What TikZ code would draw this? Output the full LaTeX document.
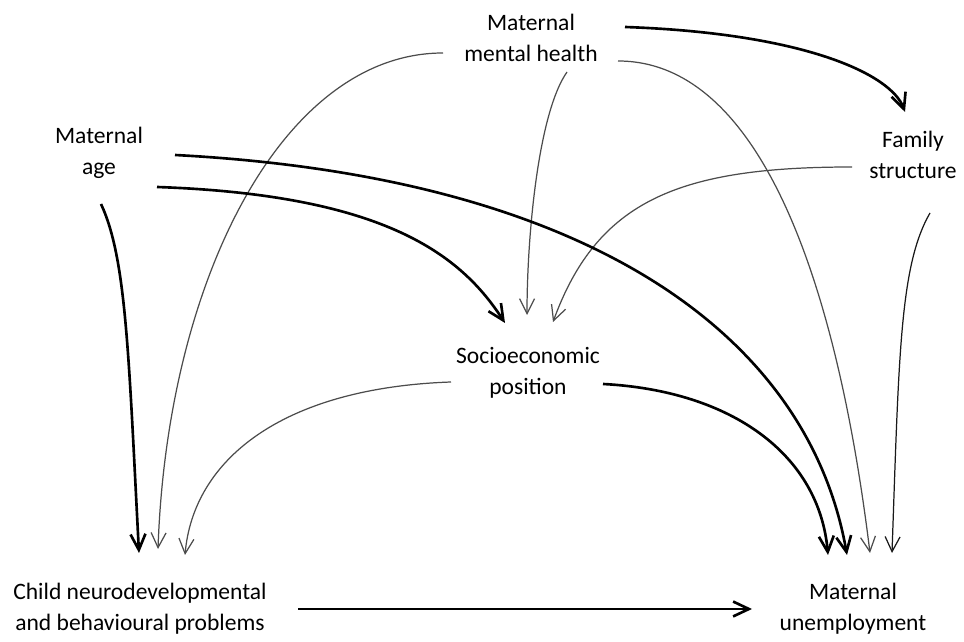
\documentclass[tikz,border=0pt]{standalone}
\usepackage{fontspec}
\setmainfont{Carlito}
\usetikzlibrary{arrows.meta, calc}

\begin{document}
\begin{tikzpicture}[x=0.02cm, y=0.02cm,
    var/.style={align=center, inner sep=0pt, font=\fontsize{13.4}{17.6}\selectfont},
    strong/.style={line width=1.5pt, -{Straight Barb[length=9pt, width=8.5pt]}},
    weak/.style={line width=0.7pt, black!70, -{Straight Barb[length=8.5pt, width=8.5pt]}}]
    \useasboundingbox (0,0) rectangle (964,642);

    % variables
    \node[var] (mmh)   at (531,604) {Maternal\\mental health};
    \node[var] (age)   at (99,489)  {Maternal\\age};
    \node[var] (fam)   at (913,487) {Family\\structure};
    \node[var] (sep)   at (528,269) {Socioeconomic\\position};
    \node[var] (child) at (140,33)  {Child neurodevelopmental\\and behavioural problems};
    \node[var] (unemp) at (853,33)  {Maternal\\unemployment};

    % maternal mental health
    \draw[strong] ($(mmh)+(94,11)$) .. controls +(-2:180) and +(110:40) .. ($(fam)+(-8,43)$);
    \draw[weak] ($(mmh)+(-88,-15)$) .. controls +(180:160) and +(88:270) .. ($(child)+(18,60)$);
    \draw[weak] ($(mmh)+(36,-34)$) .. controls +(-125:50) and +(90:80) .. ($(sep)+(-1,58)$);
    \draw[weak] ($(mmh)+(87,-23)$) .. controls +(0:140) and +(97:280) .. ($(unemp)+(17,56)$);

    % family structure
    \draw[weak] ($(fam)+(-61,-12)$) .. controls +(180:172) and +(70:130) .. ($(sep)+(25,51)$);
    \draw[weak, black!90] ($(fam)+(17,-58)$) .. controls +(-120:60) and +(88:200) .. ($(unemp)+(39,56)$);

    % maternal age
    \draw[strong] ($(age)+(76,-2)$) .. controls +(-3:420) and +(100:220) .. ($(unemp)+(-6,54)$);
    \draw[strong] ($(age)+(58,-34)$) .. controls +(-2:230) and +(123:80) .. ($(sep)+(-23,50)$);
    \draw[strong] ($(age)+(2,-51)$) .. controls +(-65:60) and +(93:200) .. ($(child)+(-1,56)$);

    % socioeconomic position
    \draw[weak] ($(sep)+(-77,-9)$) .. controls +(182:170) and +(85:95) .. ($(child)+(45,54)$);
    \draw[strong] ($(sep)+(75,-11)$) .. controls +(-3:130) and +(95:100) .. ($(unemp)+(-25,54)$);

    % child problems
    \draw[strong] ($(child)+(158,0)$) -- ($(unemp)+(-101,0)$);
\end{tikzpicture}
\end{document}
